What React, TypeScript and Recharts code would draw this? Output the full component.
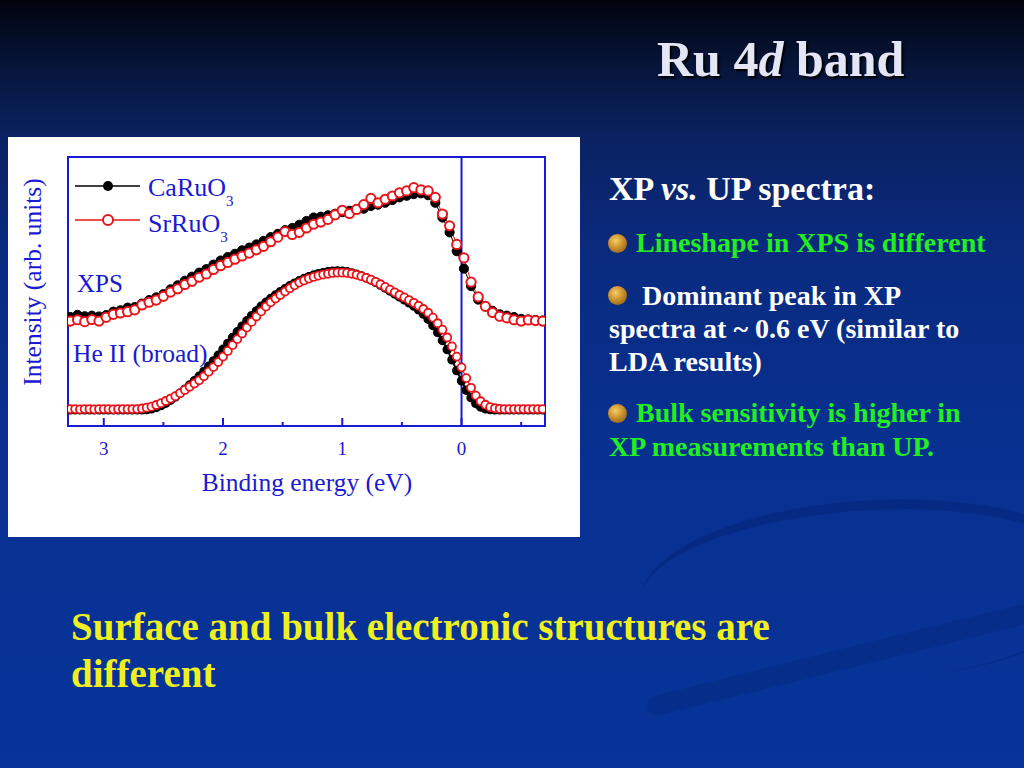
import React from "react";
import { LineChart, Line, XAxis, YAxis, ReferenceArea, ReferenceLine } from "recharts";

// XPS spectra (binding energy in eV, intensity arb. units)
const xpsEnergy = [
  3.28, 3.22, 3.16, 3.1, 3.04, 2.98, 2.92, 2.86, 2.8, 2.74,
  2.68, 2.62, 2.56, 2.5, 2.44, 2.38, 2.32, 2.26, 2.2, 2.14,
  2.08, 2.02, 1.96, 1.9, 1.84, 1.78, 1.72, 1.66, 1.6, 1.54,
  1.48, 1.42, 1.36, 1.3, 1.24, 1.18, 1.12, 1.06, 1.0, 0.94,
  0.88, 0.82, 0.76, 0.7, 0.64, 0.58, 0.52, 0.46, 0.4, 0.34,
  0.28, 0.22, 0.16, 0.1, 0.04, -0.02, -0.08, -0.14, -0.2, -0.26,
  -0.32, -0.38, -0.44, -0.5, -0.56, -0.62, -0.68,
];
const xpsCa = [
  40.5, 41.3, 40.8, 41.0, 40.7, 41.2, 42.5, 43.0, 44.0, 44.2,
  45.5, 46.8, 47.8, 49.0, 50.8, 52.3, 54.0, 55.5, 57.0, 58.3,
  60.0, 61.5, 62.8, 64.0, 65.3, 66.3, 67.5, 68.8, 70.2, 71.4,
  72.8, 73.6, 74.8, 76.2, 77.5, 77.8, 78.3, 78.9, 79.5, 80.0,
  80.6, 80.8, 81.8, 82.3, 83.0, 84.0, 85.0, 85.6, 86.2, 86.5,
  85.8, 83.0, 77.5, 72.0, 65.0, 58.5, 52.0, 47.0, 44.5, 42.8,
  41.5, 41.0, 40.5, 39.8, 39.6, 39.4, 39.2,
];
const xpsSr = [
  39.0, 39.5, 38.8, 39.6, 39.0, 40.4, 41.5, 42.0, 42.5, 43.2,
  45.0, 46.0, 46.8, 48.2, 49.8, 51.0, 52.6, 53.8, 55.3, 56.5,
  58.2, 59.6, 60.8, 62.0, 63.2, 64.3, 65.5, 66.8, 68.5, 70.2,
  72.3, 71.2, 72.0, 73.6, 75.0, 75.8, 76.8, 78.5, 80.2, 79.0,
  80.5, 82.3, 84.6, 83.0, 84.3, 85.5, 86.7, 87.4, 88.6, 87.8,
  87.4, 85.0, 78.8, 74.4, 67.5, 62.5, 53.5, 48.0, 44.5, 42.2,
  40.8, 40.2, 39.5, 39.0, 39.4, 39.2, 39.0,
];

// He II (broad) spectra
const heEnergy = [
  3.28, 3.24, 3.2, 3.16, 3.12, 3.08, 3.04, 3.0, 2.96, 2.92,
  2.88, 2.84, 2.8, 2.76, 2.72, 2.68, 2.64, 2.6, 2.56, 2.52,
  2.48, 2.44, 2.4, 2.36, 2.32, 2.28, 2.24, 2.2, 2.16, 2.12,
  2.08, 2.04, 2.0, 1.96, 1.92, 1.88, 1.84, 1.8, 1.76, 1.72,
  1.68, 1.64, 1.6, 1.56, 1.52, 1.48, 1.44, 1.4, 1.36, 1.32,
  1.28, 1.24, 1.2, 1.16, 1.12, 1.08, 1.04, 1.0, 0.96, 0.92,
  0.88, 0.84, 0.8, 0.76, 0.72, 0.68, 0.64, 0.6, 0.56, 0.52,
  0.48, 0.44, 0.4, 0.36, 0.32, 0.28, 0.24, 0.2, 0.16, 0.12,
  0.08, 0.04, 0.0, -0.04, -0.08, -0.12, -0.16, -0.2, -0.24, -0.28,
  -0.32, -0.36, -0.4, -0.44, -0.48, -0.52, -0.56, -0.6, -0.64, -0.68,
];
const heCa = [
  6.0, 6.0, 6.0, 6.0, 6.0, 6.0, 6.0, 6.0, 6.0, 6.0,
  6.0, 6.0, 6.0, 6.0, 6.0, 6.0, 6.1, 6.4, 6.9, 7.6,
  8.5, 9.6, 10.8, 12.2, 13.7, 15.2, 16.8, 18.5, 20.3, 22.2,
  24.2, 26.3, 28.5, 30.7, 32.9, 35.0, 37.1, 39.1, 41.0, 42.8,
  44.5, 46.0, 47.4, 48.7, 49.9, 51.0, 52.1, 53.1, 54.0, 54.8,
  55.5, 56.1, 56.6, 57.0, 57.3, 57.5, 57.6, 57.5, 57.3, 56.9,
  56.4, 55.8, 55.1, 54.3, 53.4, 52.4, 51.3, 50.2, 49.1, 48.0,
  46.9, 45.8, 44.6, 43.2, 41.6, 39.7, 37.4, 34.8, 31.8, 28.4,
  24.6, 20.6, 16.8, 13.3, 10.5, 8.4, 7.1, 6.4, 6.1, 6.0,
  6.0, 6.0, 6.0, 6.0, 6.0, 6.0, 6.0, 6.0, 6.0, 6.0,
];
const heSr = [
  6.3, 6.3, 6.2, 6.3, 6.3, 6.2, 6.3, 6.3, 6.3, 6.2,
  6.3, 6.3, 6.3, 6.3, 6.3, 6.5, 6.8, 7.2, 7.8, 8.5,
  9.3, 10.2, 11.1, 12.2, 13.4, 14.6, 15.8, 17.0, 18.5, 20.2,
  21.9, 23.8, 25.8, 27.9, 30.1, 32.3, 34.4, 36.6, 38.7, 40.7,
  42.6, 44.4, 46.0, 47.4, 48.7, 50.0, 51.2, 52.3, 53.3, 54.1,
  54.8, 55.4, 55.9, 56.3, 56.6, 56.9, 57.0, 57.0, 56.9, 56.6,
  56.2, 55.7, 55.1, 54.4, 53.6, 52.7, 51.7, 50.7, 49.7, 48.7,
  47.8, 46.8, 45.8, 44.7, 43.5, 42.1, 40.3, 38.2, 35.8, 32.9,
  29.6, 25.8, 21.8, 17.8, 14.2, 11.3, 9.2, 7.9, 7.0, 6.6,
  6.4, 6.3, 6.3, 6.3, 6.3, 6.3, 6.3, 6.3, 6.3, 6.3,
];

const xTicks = [3, 2.5, 2, 1.5, 1, 0.5, 0, -0.5];

const toRows = (es: number[], vs: number[]) => es.map((e, i) => ({ e, v: vs[i] }));

const BLUE = "#1a1ad2";
const RED = "#e8141a";
const SERIF = "'Liberation Serif', 'Times New Roman', serif";

const Tick = (props: any) => {
  const { x, y, payload } = props;
  const major = Number.isInteger(payload.value);
  return (
    <g>
      <line x1={x} x2={x} y1={y} y2={y - (major ? 8 : 4)} stroke={BLUE} strokeWidth={2} />
      {major && (
        <text x={x} y={y + 29} textAnchor="middle" fill={BLUE} fontSize={19} fontFamily={SERIF}>
          {payload.value}
        </text>
      )}
    </g>
  );
};

const Bullet = ({ x, y }: { x: number; y: number }) => (
  <div
    style={{
      position: "absolute",
      left: x,
      top: y,
      width: 19,
      height: 19,
      borderRadius: "50%",
      background: "radial-gradient(circle at 40% 35%, #f4cf6a 0%, #c98f2a 45%, #7a5314 100%)",
    }}
  />
);

const txt = (x: number, y: number, color: string, size: number, text: React.ReactNode) => (
  <div
    style={{
      position: "absolute",
      left: x,
      top: y,
      color,
      fontSize: size,
      fontWeight: "bold",
      fontFamily: SERIF,
      whiteSpace: "nowrap",
      lineHeight: 1,
    }}
  >
    {text}
  </div>
);

const App = () => {
  return (
    <div
      style={{
        position: "absolute",
        left: 0,
        top: 0,
        width: 1024,
        height: 768,
        overflow: "hidden",
        background:
          "linear-gradient(180deg, #01030e 0%, #061436 8%, #0a2262 18%, #0a2a7e 32%, #08308f 55%, #07339a 100%)",
      }}
    >
      {/* faint background swooshes */}
      <div
        style={{
          position: "absolute",
          left: 640,
          top: 500,
          width: 460,
          height: 170,
          borderRadius: "50%",
          borderTop: "10px solid rgba(6,36,115,0.45)",
          borderRight: "10px solid rgba(6,36,115,0.45)",
          borderLeft: "0px solid transparent",
          borderBottom: "0px solid transparent",
          transform: "rotate(-3deg)",
        }}
      />
      <div
        style={{
          position: "absolute",
          left: 640,
          top: 640,
          width: 480,
          height: 20,
          background: "rgba(6,36,115,0.35)",
          transform: "rotate(-14deg)",
          borderRadius: 10,
        }}
      />

      {/* title */}
      <div
        style={{
          position: "absolute",
          left: 657,
          top: 34,
          color: "#e4e6f6",
          fontSize: 50,
          fontWeight: "bold",
          fontFamily: SERIF,
          whiteSpace: "nowrap",
          lineHeight: 1,
          textShadow: "2px 2px 2px #000",
        }}
      >
        Ru 4<i>d</i> band
      </div>

      {/* chart panel */}
      <div style={{ position: "absolute", left: 8, top: 137, width: 572, height: 400, background: "#fff" }}>
        <LineChart width={572} height={400} margin={{ top: 20, right: 35, bottom: 81, left: 60 }}>
          <XAxis
            dataKey="e"
            type="number"
            domain={[-0.7, 3.3]}
            reversed
            ticks={xTicks}
            interval={0}
            axisLine={false}
            tickLine={false}
            tickSize={0}
            tickMargin={0}
            tick={<Tick />}
            height={30}
            allowDataOverflow
          />
          <YAxis type="number" domain={[0, 100]} hide allowDataOverflow />
          <ReferenceLine x={0} stroke={BLUE} strokeWidth={2} />
          <Line data={toRows(heEnergy, heCa)} dataKey="v" stroke="#000" strokeWidth={2}
            dot={{ r: 4, fill: "#000", stroke: "#000", strokeWidth: 1.5 }} isAnimationActive={false} />
          <Line data={toRows(heEnergy, heSr)} dataKey="v" stroke={RED} strokeWidth={1.2}
            dot={{ r: 4, fill: "#fff", stroke: RED, strokeWidth: 1.8 }} isAnimationActive={false} />
          <Line data={toRows(xpsEnergy, xpsCa)} dataKey="v" stroke="#000" strokeWidth={1}
            dot={{ r: 4.6, fill: "#000", stroke: "#000", strokeWidth: 1 }} isAnimationActive={false} />
          <Line data={toRows(xpsEnergy, xpsSr)} dataKey="v" stroke={RED} strokeWidth={1}
            dot={{ r: 4.6, fill: "#fff", stroke: RED, strokeWidth: 2 }} isAnimationActive={false} />
          <ReferenceArea x1={-0.7} x2={3.3} y1={0} y2={100} fill="none" stroke={BLUE} strokeWidth={2} ifOverflow="visible" />
        </LineChart>

        {/* legend */}
        <svg style={{ position: "absolute", left: 0, top: 0 }} width={572} height={120}>
          <line x1={67} x2={132} y1={49} y2={49} stroke="#000" strokeWidth={1.5} />
          <circle cx={100} cy={49} r={5} fill="#000" />
          <line x1={67} x2={132} y1={83} y2={83} stroke={RED} strokeWidth={1.5} />
          <circle cx={100} cy={83} r={5} fill="#fff" stroke={RED} strokeWidth={2} />
          <text x={140} y={59} fill={BLUE} fontSize={26} fontFamily={SERIF}>
            CaRuO<tspan fontSize={15} dy={10}>3</tspan>
          </text>
          <text x={140} y={95} fill={BLUE} fontSize={26} fontFamily={SERIF}>
            SrRuO<tspan fontSize={15} dy={10}>3</tspan>
          </text>
        </svg>

        <div style={{ position: "absolute", left: 69, top: 134, color: BLUE, fontSize: 25, fontFamily: SERIF, lineHeight: 1 }}>XPS</div>
        <div style={{ position: "absolute", left: 65, top: 204, color: BLUE, fontSize: 25.5, fontFamily: SERIF, lineHeight: 1, whiteSpace: "nowrap" }}>
          He II (broad)
        </div>
        <div style={{ position: "absolute", left: 0, width: 598, top: 333, textAlign: "center", color: BLUE, fontSize: 25.5, fontFamily: SERIF, lineHeight: 1 }}>
          Binding energy (eV)
        </div>
        <div style={{ position: "absolute", left: 25, top: 145, width: 0, height: 0 }}>
          <div
            style={{
              position: "absolute",
              left: -130,
              top: -13,
              width: 260,
              textAlign: "center",
              transform: "rotate(-90deg)",
              color: BLUE,
              fontSize: 25.5,
              fontFamily: SERIF,
              lineHeight: "26px",
              whiteSpace: "nowrap",
            }}
          >
            Intensity (arb. units)
          </div>
        </div>
      </div>

      {/* right-hand notes */}
      {txt(609, 172, "#ffffff", 34, <>XP <i>vs.</i> UP spectra:</>)}
      <Bullet x={608} y={234} />
      {txt(636, 229, "#22ee22", 28, "Lineshape in XPS is different")}
      <Bullet x={608} y={286} />
      {txt(642, 282, "#ffffff", 28, "Dominant peak in XP")}
      {txt(609, 315, "#ffffff", 28, "spectra at ~ 0.6 eV (similar to")}
      {txt(609, 348, "#ffffff", 28, "LDA results)")}
      <Bullet x={608} y={404} />
      {txt(636, 399, "#22ee22", 28, "Bulk sensitivity is higher in")}
      {txt(609, 433, "#22ee22", 28, "XP measurements than UP.")}

      {/* conclusion */}
      {txt(71, 607, "#f0f020", 39, "Surface and bulk electronic structures are")}
      {txt(71, 654, "#f0f020", 39, "different")}
    </div>
  );
};

export default App;
